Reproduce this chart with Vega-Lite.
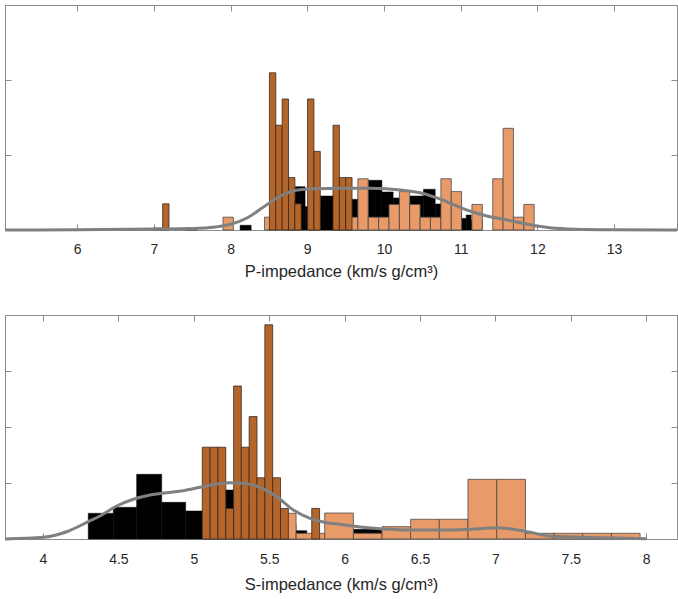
{
  "$schema": "https://vega.github.io/schema/vega-lite/v6.json",
  "padding": {"left": -2, "top": 4, "right": 0, "bottom": 0},
  "background": "white",
  "spacing": 34,
  "config": {
    "view": {"stroke": "#8c8c8c", "strokeWidth": 1},
    "axis": {
      "grid": false,
      "labelFont": "Liberation Sans",
      "labelFontSize": 14,
      "labelColor": "#262626",
      "titleFont": "Liberation Sans",
      "titleFontSize": 16.5,
      "titleFontWeight": "normal",
      "titleColor": "#262626",
      "domainColor": "#8c8c8c",
      "tickColor": "#8c8c8c",
      "tickSize": -6,
      "labelPadding": 18,
      "titlePadding": 7,
      "format": "~g"
    }
  },
  "datasets": {
    "p_black": [
      {"x0": 6.995, "x1": 7.112, "h": 0.027},
      {"x0": 7.408, "x1": 7.561, "h": 0.027},
      {"x0": 8.125, "x1": 8.269, "h": 0.063},
      {"x0": 8.686, "x1": 8.842, "h": 0.4},
      {"x0": 8.842, "x1": 8.972, "h": 0.577},
      {"x0": 8.972, "x1": 9.172, "h": 0.311},
      {"x0": 9.172, "x1": 9.342, "h": 0.453},
      {"x0": 9.342, "x1": 9.503, "h": 0.4},
      {"x0": 9.503, "x1": 9.664, "h": 0.409},
      {"x0": 9.664, "x1": 9.798, "h": 0.533},
      {"x0": 9.798, "x1": 9.973, "h": 0.663},
      {"x0": 9.973, "x1": 10.12, "h": 0.507},
      {"x0": 10.12, "x1": 10.333, "h": 0.427},
      {"x0": 10.333, "x1": 10.515, "h": 0.453},
      {"x0": 10.515, "x1": 10.668, "h": 0.543},
      {"x0": 10.668, "x1": 10.824, "h": 0.347},
      {"x0": 10.824, "x1": 11.007, "h": 0.4},
      {"x0": 11.007, "x1": 11.072, "h": 0.155},
      {"x0": 11.072, "x1": 11.137, "h": 0.2},
      {"x0": 11.137, "x1": 11.28, "h": 0.133}
    ],
    "p_light": [
      {"x0": 7.902, "x1": 8.037, "h": 0.171},
      {"x0": 8.443, "x1": 8.578, "h": 0.171},
      {"x0": 9.525, "x1": 9.66, "h": 0.171},
      {"x0": 9.66, "x1": 9.795, "h": 0.683},
      {"x0": 9.795, "x1": 9.93, "h": 0.171},
      {"x0": 9.93, "x1": 10.066, "h": 0.171},
      {"x0": 10.066, "x1": 10.201, "h": 0.341},
      {"x0": 10.201, "x1": 10.336, "h": 0.512},
      {"x0": 10.336, "x1": 10.471, "h": 0.341},
      {"x0": 10.471, "x1": 10.606, "h": 0.171},
      {"x0": 10.606, "x1": 10.742, "h": 0.171},
      {"x0": 10.742, "x1": 10.877, "h": 0.683},
      {"x0": 10.877, "x1": 11.012, "h": 0.512},
      {"x0": 11.147, "x1": 11.282, "h": 0.341},
      {"x0": 11.418, "x1": 11.553, "h": 0.683},
      {"x0": 11.553, "x1": 11.688, "h": 1.356},
      {"x0": 11.688, "x1": 11.823, "h": 0.171},
      {"x0": 11.823, "x1": 11.958, "h": 0.341}
    ],
    "p_dark": [
      {"x0": 7.115, "x1": 7.198, "h": 0.349},
      {"x0": 8.507, "x1": 8.59, "h": 2.096},
      {"x0": 8.59, "x1": 8.673, "h": 1.397},
      {"x0": 8.673, "x1": 8.756, "h": 1.747},
      {"x0": 8.756, "x1": 8.839, "h": 0.699},
      {"x0": 8.839, "x1": 8.921, "h": 0.349},
      {"x0": 9.004, "x1": 9.087, "h": 1.747},
      {"x0": 9.087, "x1": 9.17, "h": 1.048},
      {"x0": 9.336, "x1": 9.419, "h": 1.397},
      {"x0": 9.419, "x1": 9.501, "h": 0.699},
      {"x0": 9.501, "x1": 9.584, "h": 0.699}
    ],
    "p_curve": [
      {"x": 5.06, "y": 0.0},
      {"x": 6.0, "y": 0.003},
      {"x": 7.0, "y": 0.013},
      {"x": 7.5, "y": 0.02},
      {"x": 7.8, "y": 0.04},
      {"x": 8.0, "y": 0.076},
      {"x": 8.22, "y": 0.164},
      {"x": 8.43, "y": 0.307},
      {"x": 8.65, "y": 0.453},
      {"x": 8.87, "y": 0.533},
      {"x": 9.08, "y": 0.551},
      {"x": 9.5, "y": 0.556},
      {"x": 9.82, "y": 0.556},
      {"x": 10.25, "y": 0.529},
      {"x": 10.47, "y": 0.497},
      {"x": 10.68, "y": 0.431},
      {"x": 10.9, "y": 0.343},
      {"x": 11.12, "y": 0.253},
      {"x": 11.34, "y": 0.187},
      {"x": 11.56, "y": 0.143},
      {"x": 11.77, "y": 0.097},
      {"x": 11.99, "y": 0.053},
      {"x": 12.16, "y": 0.031},
      {"x": 12.5, "y": 0.011},
      {"x": 13.0, "y": 0.003},
      {"x": 13.82, "y": 0.0}
    ],
    "s_black": [
      {"x0": 4.3, "x1": 4.466, "h": 0.459},
      {"x0": 4.466, "x1": 4.621, "h": 0.566},
      {"x0": 4.621, "x1": 4.787, "h": 1.155},
      {"x0": 4.787, "x1": 4.946, "h": 0.655},
      {"x0": 4.946, "x1": 5.108, "h": 0.5},
      {"x0": 5.108, "x1": 5.265, "h": 0.875},
      {"x0": 5.265, "x1": 5.424, "h": 0.714},
      {"x0": 5.424, "x1": 5.583, "h": 0.536},
      {"x0": 5.583, "x1": 5.678, "h": 0.27},
      {"x0": 5.678, "x1": 5.749, "h": 0.148},
      {"x0": 6.058, "x1": 6.246, "h": 0.173}
    ],
    "s_light": [
      {"x0": 5.488, "x1": 5.678, "h": 0.459},
      {"x0": 5.678, "x1": 5.868, "h": 0.102},
      {"x0": 5.868, "x1": 6.058, "h": 0.464},
      {"x0": 6.058, "x1": 6.248, "h": 0.102},
      {"x0": 6.248, "x1": 6.438, "h": 0.22},
      {"x0": 6.438, "x1": 6.628, "h": 0.352},
      {"x0": 6.628, "x1": 6.818, "h": 0.352},
      {"x0": 6.818, "x1": 7.009, "h": 1.066},
      {"x0": 7.009, "x1": 7.199, "h": 1.066},
      {"x0": 7.199, "x1": 7.389, "h": 0.102},
      {"x0": 7.389, "x1": 7.579, "h": 0.102},
      {"x0": 7.579, "x1": 7.769, "h": 0.102},
      {"x0": 7.769, "x1": 7.959, "h": 0.102}
    ],
    "s_dark": [
      {"x0": 5.056, "x1": 5.108, "h": 1.639},
      {"x0": 5.108, "x1": 5.16, "h": 1.639},
      {"x0": 5.16, "x1": 5.212, "h": 1.639},
      {"x0": 5.212, "x1": 5.264, "h": 0.546},
      {"x0": 5.264, "x1": 5.315, "h": 2.732},
      {"x0": 5.315, "x1": 5.367, "h": 1.639},
      {"x0": 5.367, "x1": 5.419, "h": 2.186},
      {"x0": 5.419, "x1": 5.471, "h": 1.093},
      {"x0": 5.471, "x1": 5.523, "h": 3.825},
      {"x0": 5.523, "x1": 5.575, "h": 1.093},
      {"x0": 5.575, "x1": 5.627, "h": 0.546},
      {"x0": 5.782, "x1": 5.834, "h": 0.546}
    ],
    "s_curve": [
      {"x": 3.748, "y": 0.0},
      {"x": 4.002, "y": 0.03},
      {"x": 4.157, "y": 0.13},
      {"x": 4.3, "y": 0.309},
      {"x": 4.378, "y": 0.411},
      {"x": 4.489, "y": 0.589},
      {"x": 4.599, "y": 0.709},
      {"x": 4.71, "y": 0.786},
      {"x": 4.82, "y": 0.827},
      {"x": 4.93, "y": 0.863},
      {"x": 5.041, "y": 0.923},
      {"x": 5.152, "y": 0.982},
      {"x": 5.24, "y": 1.005},
      {"x": 5.328, "y": 0.995},
      {"x": 5.439, "y": 0.923},
      {"x": 5.55, "y": 0.755},
      {"x": 5.66, "y": 0.518},
      {"x": 5.771, "y": 0.37},
      {"x": 5.881, "y": 0.291},
      {"x": 5.969, "y": 0.263},
      {"x": 6.014, "y": 0.245},
      {"x": 6.235, "y": 0.184},
      {"x": 6.456, "y": 0.161},
      {"x": 6.677, "y": 0.161},
      {"x": 6.898, "y": 0.184},
      {"x": 7.009, "y": 0.202},
      {"x": 7.119, "y": 0.173},
      {"x": 7.229, "y": 0.12},
      {"x": 7.34, "y": 0.059},
      {"x": 7.561, "y": 0.03},
      {"x": 7.782, "y": 0.018},
      {"x": 8.003, "y": 0.005}
    ]
  },
  "vconcat": [
    {
      "width": 672,
      "height": 225,
      "resolve": {"axis": {"x": "independent", "y": "independent"}},
      "layer": [
        {
          "data": {"name": "p_black"},
          "mark": {"type": "rect", "color": "black", "stroke": "black", "strokeWidth": 0.5},
          "encoding": {
            "x": {"field": "x0", "type": "quantitative", "scale": {"domain": [5.06, 13.82], "nice": false, "zero": false},
                  "axis": {"orient": "bottom", "values": [6, 7, 8, 9, 10, 11, 12, 13], "title": "P-impedance (km/s g/cm³)"}},
            "x2": {"field": "x1"},
            "y": {"field": "h", "type": "quantitative", "scale": {"domain": [0, 3], "nice": false},
                  "axis": {"orient": "left", "values": [1, 2], "labels": false, "title": null}},
            "y2": {"datum": 0}
          }
        },
        {
          "data": {"name": "p_light"},
          "mark": {"type": "rect", "color": "#E89A69", "stroke": "#4a4a4a", "strokeWidth": 0.8},
          "encoding": {
            "x": {"field": "x0", "type": "quantitative", "axis": null},
            "x2": {"field": "x1"},
            "y": {"field": "h", "type": "quantitative", "axis": null},
            "y2": {"datum": 0}
          }
        },
        {
          "data": {"name": "p_dark"},
          "mark": {"type": "rect", "color": "#B4652A", "stroke": "#3a2a1f", "strokeWidth": 0.8},
          "encoding": {
            "x": {"field": "x0", "type": "quantitative", "axis": null},
            "x2": {"field": "x1"},
            "y": {"field": "h", "type": "quantitative", "axis": null},
            "y2": {"datum": 0}
          }
        },
        {
          "data": {"name": "p_curve"},
          "mark": {"type": "line", "color": "#808080", "strokeWidth": 3, "interpolate": "monotone"},
          "encoding": {
            "x": {"field": "x", "type": "quantitative",
                  "axis": {"orient": "top", "values": [6, 7, 8, 9, 10, 11, 12, 13], "labels": false, "title": null}},
            "y": {"field": "y", "type": "quantitative",
                  "axis": {"orient": "right", "values": [1, 2], "labels": false, "title": null}}
          }
        }
      ]
    },
    {
      "width": 672,
      "height": 224,
      "resolve": {"axis": {"x": "independent", "y": "independent"}},
      "layer": [
        {
          "data": {"name": "s_black"},
          "mark": {"type": "rect", "color": "black", "stroke": "black", "strokeWidth": 0.5},
          "encoding": {
            "x": {"field": "x0", "type": "quantitative", "scale": {"domain": [3.748, 8.204], "nice": false, "zero": false},
                  "axis": {"orient": "bottom", "values": [4, 4.5, 5, 5.5, 6, 6.5, 7, 7.5, 8], "title": "S-impedance (km/s g/cm³)", "labelPadding": 19, "titlePadding": 10}},
            "x2": {"field": "x1"},
            "y": {"field": "h", "type": "quantitative", "scale": {"domain": [0, 4], "nice": false},
                  "axis": {"orient": "left", "values": [1, 2, 3], "labels": false, "title": null}},
            "y2": {"datum": 0}
          }
        },
        {
          "data": {"name": "s_light"},
          "mark": {"type": "rect", "color": "#E89A69", "stroke": "#4a4a4a", "strokeWidth": 0.8},
          "encoding": {
            "x": {"field": "x0", "type": "quantitative", "axis": null},
            "x2": {"field": "x1"},
            "y": {"field": "h", "type": "quantitative", "axis": null},
            "y2": {"datum": 0}
          }
        },
        {
          "data": {"name": "s_dark"},
          "mark": {"type": "rect", "color": "#B4652A", "stroke": "#3a2a1f", "strokeWidth": 0.8},
          "encoding": {
            "x": {"field": "x0", "type": "quantitative", "axis": null},
            "x2": {"field": "x1"},
            "y": {"field": "h", "type": "quantitative", "axis": null},
            "y2": {"datum": 0}
          }
        },
        {
          "data": {"name": "s_curve"},
          "mark": {"type": "line", "color": "#808080", "strokeWidth": 3, "interpolate": "monotone"},
          "encoding": {
            "x": {"field": "x", "type": "quantitative",
                  "axis": {"orient": "top", "values": [4, 4.5, 5, 5.5, 6, 6.5, 7, 7.5, 8], "labels": false, "title": null}},
            "y": {"field": "y", "type": "quantitative",
                  "axis": {"orient": "right", "values": [1, 2, 3], "labels": false, "title": null}}
          }
        }
      ]
    }
  ]
}
